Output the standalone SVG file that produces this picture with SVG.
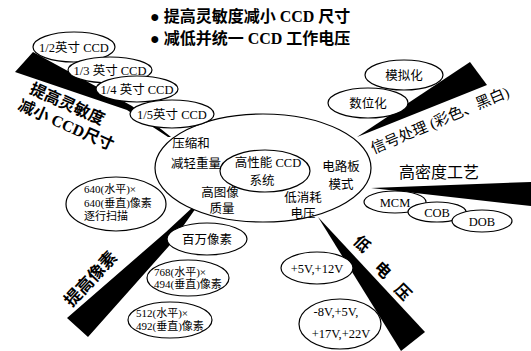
<svg xmlns="http://www.w3.org/2000/svg" width="531" height="351" viewBox="0 0 531 351">
<style>
.e{fill:#fff;stroke:#000;stroke-width:1.2}
.w{fill:#000;stroke:none}
text{font-family:"Liberation Serif","Noto Sans CJK SC",serif;fill:#000}
.t{font-size:12.5px;text-anchor:middle}
.s{font-size:11px}
.b{font-size:16px;text-anchor:middle;font-weight:bold}
.h{font-size:16px;font-weight:bold}
</style>
<rect width="531" height="351" fill="#fff"/>
<g id="connectors">
<polygon class="w" points="33,52 15,72 127,110 168,137 171,137 132,106"/>
<polygon class="w" points="357,137 470,62 487,85"/>
<polygon class="w" points="371,188 531,182 531,206"/>
<polygon class="w" points="318,217 425,332 401,351"/>
<polygon class="w" points="194,206 196,208 169,246 88,337 67,318 166,232"/>
</g>
<g id="title">
<text class="h" x="150" y="22">● 提高灵敏度减小 CCD 尺寸</text>
<text class="h" x="150" y="44">● 减低并统一 CCD 工作电压</text>
</g>
<g id="core">
<ellipse class="e" cx="263" cy="168" rx="108" ry="54"/>
<text class="t" x="191" y="148">压缩和</text>
<text class="t" x="196" y="168">减轻重量</text>
<text class="t" x="341" y="171">电路板</text>
<text class="t" x="341" y="189">模式</text>
<text class="t" x="220" y="197">高图像</text>
<text class="t" x="222" y="213">质量</text>
<text class="t" x="303" y="202">低消耗</text>
<text class="t" x="303" y="218">电压</text>
</g>
<g id="center">
<ellipse class="e" cx="265" cy="171" rx="45" ry="21"/>
<text class="t" x="268" y="167">高性能 CCD</text>
<text class="t" x="262" y="185">系统</text>
</g>
<g id="n12"><ellipse class="e" cx="74" cy="47" rx="41" ry="15"/><text class="t" x="74" y="52">1/2英寸 CCD</text></g>
<g id="n13"><ellipse class="e" cx="110" cy="70" rx="42" ry="13"/><text class="t" x="110" y="75">1/3 英寸 CCD</text></g>
<g id="n14"><ellipse class="e" cx="137" cy="89" rx="41" ry="13"/><text class="t" x="137" y="94">1/4 英寸 CCD</text></g>
<g id="n15"><ellipse class="e" cx="172" cy="114" rx="42" ry="14"/><text class="t" x="172" y="119">1/5英寸 CCD</text></g>
<g id="lbl-sens">
<text class="b" transform="translate(65,109) rotate(24)">提高灵敏度</text>
<text class="b" transform="translate(64,130) rotate(24)">减小 CCD尺寸</text>
</g>
<g id="n-mon"><ellipse class="e" cx="404" cy="75" rx="39" ry="15"/><text class="t" x="404" y="80">模拟化</text></g>
<g id="n-dig"><ellipse class="e" cx="368" cy="103" rx="40" ry="15"/><text class="t" x="368" y="108">数位化</text></g>
<g id="lbl-sig"><text class="b" style="font-weight:normal;font-size:15px" transform="translate(442,125) rotate(-23)">信号处理 (彩色、黑白)</text></g>
<g id="lbl-hd"><text class="b" style="font-weight:normal" x="439" y="178">高密度工艺</text></g>
<g id="n-mcm"><ellipse class="e" cx="395" cy="202" rx="31" ry="11"/><text class="t" x="395" y="207">MCM</text></g>
<g id="n-cob"><ellipse class="e" cx="437" cy="212" rx="29" ry="10"/><text class="t" x="437" y="217">COB</text></g>
<g id="n-dob"><ellipse class="e" cx="482" cy="221" rx="30" ry="11"/><text class="t" x="482" y="226">DOB</text></g>
<g id="lbl-lv">
<text class="b" transform="translate(358,248) rotate(45)">低</text>
<text class="b" transform="translate(379,274) rotate(45)">电</text>
<text class="b" transform="translate(399,296) rotate(45)">压</text>
</g>
<g id="n-v1"><ellipse class="e" cx="317" cy="268" rx="36" ry="16"/><text class="t" x="317" y="273">+5V,+12V</text></g>
<g id="n-v2"><ellipse class="e" cx="340" cy="324" rx="41" ry="25"/><text class="t" x="336" y="316">-8V,+5V,</text><text class="t" x="341" y="338">+17V,+22V</text></g>
<g id="n-640"><ellipse class="e" cx="116" cy="204" rx="50" ry="27"/>
<text class="s" x="84" y="193">640(水平)×</text>
<text class="s" x="84" y="207">640(垂直)像素</text>
<text class="s" x="84" y="220">逐行扫描</text></g>
<g id="n-mp"><ellipse class="e" cx="207" cy="239" rx="40" ry="16"/><text class="t" x="207" y="244">百万像素</text></g>
<g id="n-768"><ellipse class="e" cx="188" cy="278" rx="41" ry="18"/>
<text class="s" x="154" y="276">768(水平)×</text>
<text class="s" x="154" y="288">494(垂直)像素</text></g>
<g id="n-512"><ellipse class="e" cx="170" cy="320" rx="42" ry="18"/>
<text class="s" x="136" y="317">512(水平)×</text>
<text class="s" x="136" y="330">492(垂直)像素</text></g>
<g id="lbl-px"><text class="b" style="font-size:17px" transform="translate(95,283) rotate(-47)">提高像素</text></g>
</svg>
